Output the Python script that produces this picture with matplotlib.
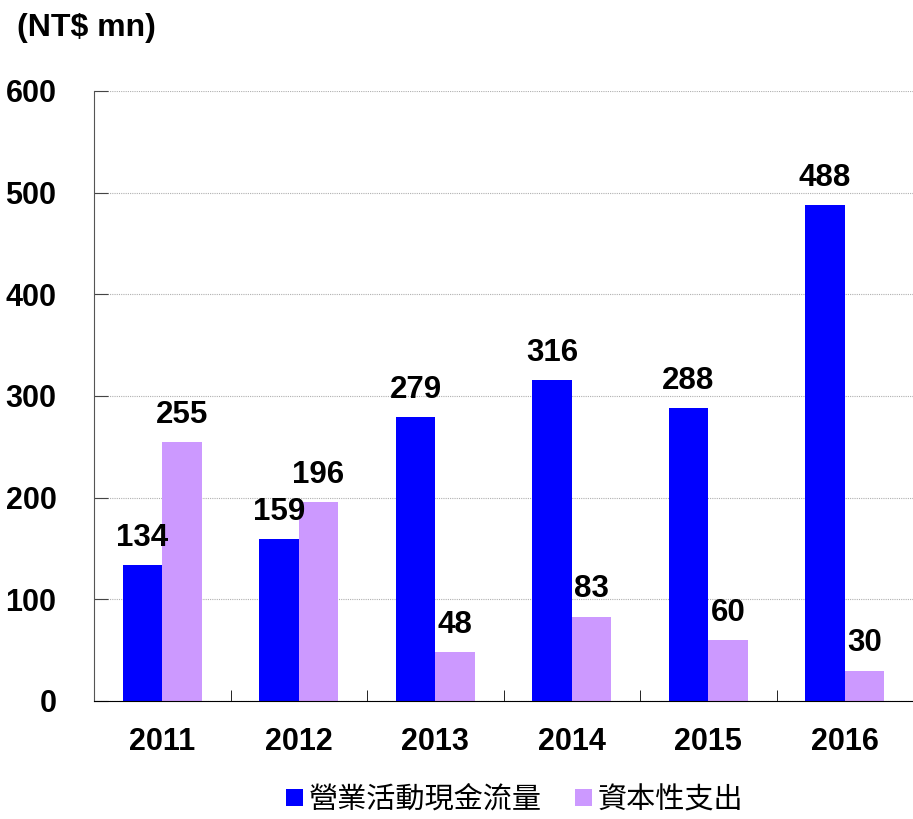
import matplotlib
matplotlib.use('Agg')
import matplotlib.pyplot as plt
import numpy as np

years = ['2011', '2012', '2013', '2014', '2015', '2016']
op_cash = [134, 159, 279, 316, 288, 488]
capex = [255, 196, 48, 83, 60, 30]
series_names = ['營業活動現金流量', '資本性支出']
colors = ['#0000FF', '#CC99FF']

plt.rcParams['font.family'] = ['Liberation Sans', 'Noto Sans CJK TC', 'DejaVu Sans']

fig = plt.figure(figsize=(9.13, 8.19), dpi=100)
ax = fig.add_axes([94 / 913, 1 - 701 / 819, 819 / 913, 610 / 819])

x = np.arange(len(years))
w = 0.29
b1 = ax.bar(x - w / 2, op_cash, w, color=colors[0], label=series_names[0])
b2 = ax.bar(x + w / 2, capex, w, color=colors[1], label=series_names[1])

for bars, vals in ((b1, op_cash), (b2, capex)):
    for r, v in zip(bars, vals):
        ax.text(r.get_x() + r.get_width() / 2, v + 12, str(v),
                ha='center', va='bottom', fontsize=22.5, fontweight='bold')

ax.set_xlim(-0.5, len(years) - 0.5)
ax.set_ylim(0, 600)
ax.set_yticks(range(0, 601, 100))
ax.yaxis.grid(True, linestyle=(0, (1, 1)), color='#b0b0b0', linewidth=0.8)
ax.set_axisbelow(True)

ax.set_xticks(x)
ax.set_xticklabels(years, fontsize=22, fontweight='bold')
ax.tick_params(axis='x', which='major', length=0, pad=19)
ax.set_xticks(np.arange(0.5, len(years) - 1, 1), minor=True)
ax.tick_params(axis='x', which='minor', direction='in', length=8, color='black')

ax.tick_params(axis='y', direction='in', length=10, pad=27, labelsize=22, color='#444444')
for lab in ax.get_yticklabels():
    lab.set_fontweight('bold')

for s in ['top', 'right']:
    ax.spines[s].set_visible(False)
ax.spines['left'].set_color('#555555')
ax.spines['bottom'].set_color('black')

fig.text(17 / 913, 1 - 28 / 819, '(NT$ mn)', fontsize=23, fontweight='bold', va='center')

fig.legend(handles=[b1, b2], loc='center', bbox_to_anchor=(515 / 913, 1 - 800 / 819),
           ncol=2, frameon=False, fontsize=21, handlelength=0.55, handleheight=0.55,
           handletextpad=0.22, columnspacing=1.15)

fig.savefig('out.png', dpi=100)
